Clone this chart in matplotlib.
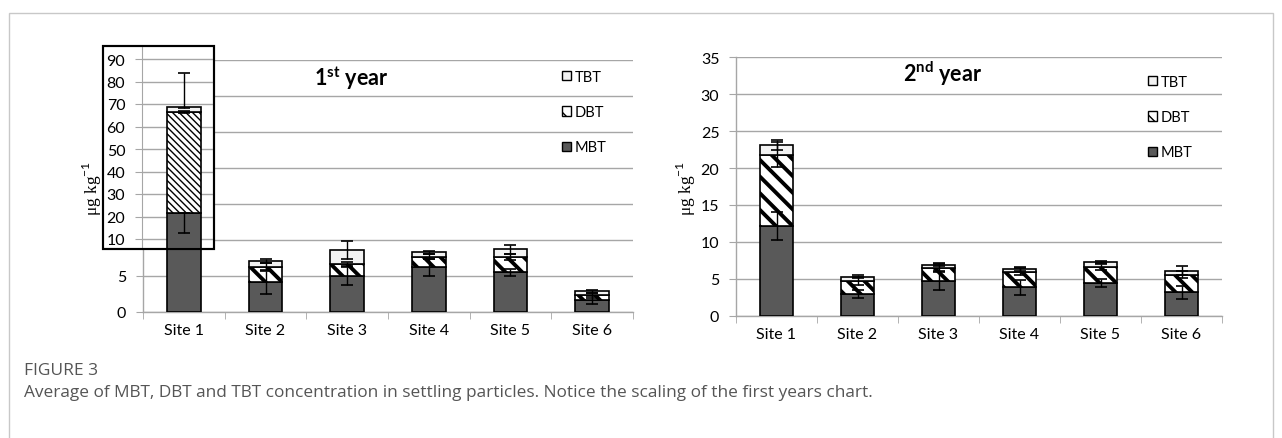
import matplotlib
matplotlib.use("Agg")
import matplotlib.pyplot as plt
from matplotlib.patches import Rectangle, Patch
import numpy as np

# ---------------- data ----------------
sites = ["Site 1", "Site 2", "Site 3", "Site 4", "Site 5", "Site 6"]
series = ["TBT", "DBT", "MBT"]

y1_mbt = [21.6, 4.1, 5.0, 6.2, 5.5, 1.7]
y1_dbt = [45.0, 2.2, 1.7, 1.5, 2.1, 0.6]
y1_tbt = [2.1, 0.8, 1.9, 0.6, 1.1, 0.6]
y1_err_mbt_lo = [8.9, 1.6, 1.3, 1.2, 0.5, 0.55]
y1_err_mbt_hi = [0.0, 1.6, 1.3, 1.2, 0.5, 0.55]
y1_err_dbt_lo = [0.5, 0.5, 0.3, 0.4, 0.4, 0.3]
y1_err_dbt_hi = [0.5, 0.5, 0.3, 0.4, 0.4, 0.3]
y1_err_tbt_lo = [0.5, 0.3, 1.3, 0.2, 0.6, 0.2]
y1_err_tbt_hi = [15.0, 0.3, 1.3, 0.2, 0.6, 0.2]

y2_mbt = [12.1, 2.9, 4.75, 3.85, 4.4, 3.15]
y2_dbt = [9.7, 1.8, 1.7, 2.1, 2.25, 2.4]
y2_tbt = [1.3, 0.55, 0.45, 0.4, 0.6, 0.55]
y2_err_mbt = [1.9, 0.55, 1.25, 1.05, 0.55, 0.9]
y2_err_dbt = [1.7, 0.5, 0.5, 0.5, 0.4, 0.5]
y2_err_tbt = [0.7, 0.2, 0.2, 0.25, 0.15, 0.6]

y_ticks_main = [0, 5, 10, 15, 20, 25, 30, 35]
y_ticks_inset = [10, 20, 30, 40, 50, 60, 70, 80, 90]

# ---------------- style ----------------
plt.rcParams['font.family'] = ['Lato', 'DejaVu Sans']
plt.rcParams['mathtext.fontset'] = 'custom'
plt.rcParams['mathtext.rm'] = 'Lato'
plt.rcParams['mathtext.bf'] = 'Lato:bold'

C_MBT = "#595959"
C_TBT = "#f2f2f2"
GRID = "#a6a6a6"
SPINE = "#a6a6a6"
TICKFS = 11.5

W, H = 1282, 439
fig = plt.figure(figsize=(W / 100, H / 100), dpi=100)


def px_axes(x0, x1, ytop, ybot, **kw):
    return fig.add_axes([x0 / W, 1 - ybot / H, (x1 - x0) / W, (ybot - ytop) / H], **kw)


def draw_stack(ax, idx, mbt, dbt, tbt, errs, hatch_lw, hatch="\\\\", width=0.41):
    x = np.arange(len(sites))[idx]
    mbt = np.asarray(mbt)[idx]
    dbt = np.asarray(dbt)[idx]
    tbt = np.asarray(tbt)[idx]
    with plt.rc_context({'hatch.linewidth': hatch_lw}):
        ax.bar(x, mbt, width, color=C_MBT, edgecolor="black", linewidth=1.2, zorder=3)
        ax.bar(x, dbt, width, bottom=mbt, color="white", edgecolor="black",
               hatch=hatch, linewidth=1.2, zorder=3)
        ax.bar(x, tbt, width, bottom=mbt + dbt, color=C_TBT, edgecolor="black",
               linewidth=1.2, zorder=3)
    tops = [mbt, mbt + dbt, mbt + dbt + tbt]
    for top, (lo, hi) in zip(tops, errs):
        yerr = np.vstack([np.asarray(lo)[idx], np.asarray(hi)[idx]])
        ax.errorbar(x, top, yerr=yerr, fmt='none', ecolor='black',
                    elinewidth=1, capsize=4, capthick=1.2, zorder=4)


def style_axes(ax, labels_shown):
    ax.set_xlim(-0.5, len(sites) - 0.5)
    ax.set_ylim(0, 35)
    ax.set_yticks(y_ticks_main)
    ax.set_yticklabels([str(t) if t in labels_shown else "" for t in y_ticks_main])
    ax.set_xticks(np.arange(len(sites)))
    ax.set_xticklabels(sites, fontsize=TICKFS)
    ax.set_xticks(np.arange(len(sites) + 1) - 0.5, minor=True)
    ax.tick_params(axis='x', which='major', length=0, pad=8)
    ax.tick_params(axis='x', which='minor', length=5, color=SPINE)
    ax.tick_params(axis='y', length=5, color=SPINE, pad=7, labelsize=TICKFS)
    ax.grid(axis='y', color=GRID, linewidth=1)
    ax.set_axisbelow(True)
    for s in ['top', 'right']:
        ax.spines[s].set_visible(False)
    for s in ['left', 'bottom']:
        ax.spines[s].set_color(SPINE)
        ax.spines[s].set_linewidth(1)


errs1 = [(y1_err_mbt_lo, y1_err_mbt_hi), (y1_err_dbt_lo, y1_err_dbt_hi),
         (y1_err_tbt_lo, y1_err_tbt_hi)]
errs2 = [(y2_err_mbt, y2_err_mbt), (y2_err_dbt, y2_err_dbt), (y2_err_tbt, y2_err_tbt)]

# ---------------- left chart (1st year) ----------------
axL = px_axes(143, 633, 61, 313)
style_axes(axL, labels_shown=[0, 5])
draw_stack(axL, slice(None), y1_mbt, y1_dbt, y1_tbt, errs1, 2.8)

# boxed rescaled section for Site 1
fig.add_artist(Rectangle((103 / W, 1 - 250 / H), (214 - 103) / W, (250 - 47) / H,
                         transform=fig.transFigure, facecolor="white", edgecolor="black",
                         linewidth=1.5, zorder=1))

px_per_unit = (633 - 143) / len(sites)
axI = px_axes(142, 214, 47, 250)
axI.set_zorder(2)
axI.patch.set_alpha(0)
axI.set_xlim(-0.5 + (142 - 143) / px_per_unit, -0.5 + (214 - 143) / px_per_unit)
axI.set_ylim(10 - 10 / 2.25, 90 + 13 / 2.25)
axI.set_yticks(y_ticks_inset)
axI.tick_params(axis='y', length=5, color=SPINE, pad=7, labelsize=TICKFS)
axI.set_xticks([])
axI.grid(axis='y', color=GRID, linewidth=1)
axI.set_axisbelow(True)
for s in ['top', 'right', 'bottom']:
    axI.spines[s].set_visible(False)
axI.spines['left'].set_color(SPINE)
draw_stack(axI, slice(0, 1), y1_mbt, y1_dbt, y1_tbt, errs1, 1.0, hatch="\\\\\\\\\\")
fig.add_artist(Rectangle((103 / W, 1 - 250 / H), (214 - 103) / W, (250 - 47) / H,
                         transform=fig.transFigure, facecolor="none", edgecolor="black",
                         linewidth=1.5, zorder=3))

# ---------------- right chart (2nd year) ----------------
axR = px_axes(736, 1222, 58.3, 316.7)
style_axes(axR, labels_shown=y_ticks_main)
draw_stack(axR, slice(None), y2_mbt, y2_dbt, y2_tbt, errs2, 2.8)

# ---------------- labels ----------------
for xl in (92, 686):
    fig.text(xl / W, 1 - 188 / H, r"μg kg$^{\mathrm{-1}}$", rotation=90, ha='center',
             va='center', fontsize=12.5, family=['Liberation Serif', 'DejaVu Serif'])

fig.text(314 / W, 1 - 78 / H, r"1$^{\mathbf{st}}$ year", fontsize=15.5, fontweight='bold',
         ha='left', va='center')
fig.text(903 / W, 1 - 74 / H, r"2$^{\mathbf{nd}}$ year", fontsize=15.5, fontweight='bold',
         ha='left', va='center')

handles = [Patch(facecolor=C_TBT, edgecolor="black", label=series[0]),
           Patch(facecolor="white", edgecolor="black", hatch="\\\\", label=series[1]),
           Patch(facecolor=C_MBT, edgecolor="black", label=series[2])]
for xa, ya in [(562, 71), (1148, 76)]:
    fig.legend(handles=handles, loc='upper left', bbox_to_anchor=(xa / W, 1 - ya / H),
               frameon=False, fontsize=10.5, handlelength=0.6, handleheight=0.6,
               handletextpad=0.3, labelspacing=1.45, borderpad=0, borderaxespad=0)

# caption
fig.text(24 / W, 1 - 371 / H, "FIGURE 3", fontsize=12.5, color="#555555",
         family=['Open Sans', 'DejaVu Sans'], ha='left', va='center')
fig.text(24 / W, 1 - 393 / H,
         "Average of MBT, DBT and TBT concentration in settling particles. "
         "Notice the scaling of the first years chart.",
         fontsize=12.4, color="#555555", family=['Open Sans', 'DejaVu Sans'],
         ha='left', va='center')

# outer frame
fig.add_artist(Rectangle((9 / W, -0.1), (1273 - 9) / W, 1.1 - 14 / H,
                         transform=fig.transFigure, facecolor="none", edgecolor="#c8c8c8",
                         linewidth=1, zorder=0))

fig.savefig("out.png", dpi=100)
